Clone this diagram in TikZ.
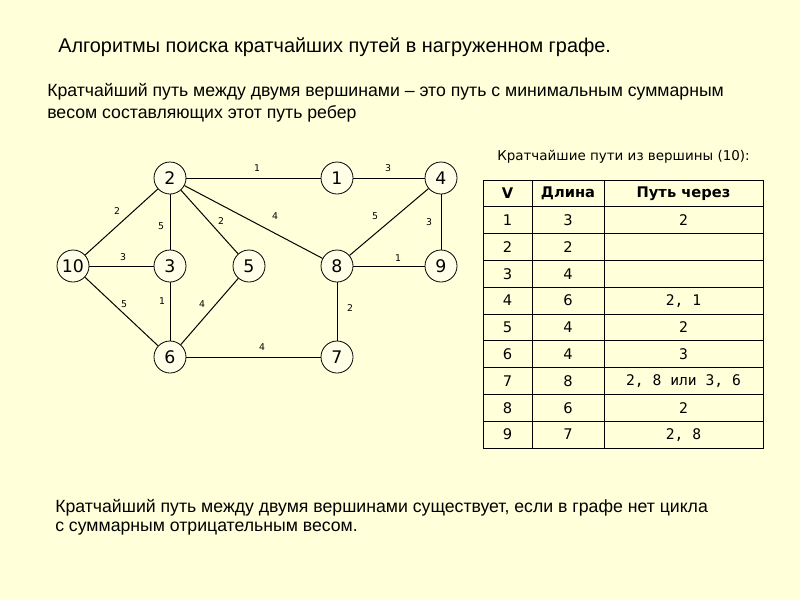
\documentclass[tikz,border=0pt]{standalone}
\usepackage{fontspec}
\setmainfont{DejaVu Sans}
\newfontfamily\arialfont{Liberation Sans}
\newfontfamily\dvs{DejaVu Sans}
\newfontfamily\dvsmono{DejaVu Sans Mono}
\definecolor{bg}{HTML}{FFFFDA}
\definecolor{nodefill}{HTML}{FFFFE8}
\begin{document}
\begin{tikzpicture}[x=0.75pt,y=-0.75pt,
  vtx/.style={circle,draw=black,fill=nodefill,line width=0.6pt,minimum size=24pt,inner sep=0pt,font=\dvs\fontsize{13}{13}\selectfont},
  edge/.style={draw=black,line width=0.75pt},
  wlab/.style={font=\dvs\fontsize{7}{7}\selectfont,inner sep=0pt},
  ttl/.style={anchor=west,inner sep=0pt,font=\arialfont\fontsize{14.9}{16}\selectfont},
  txt/.style={anchor=west,inner sep=0pt,font=\arialfont\fontsize{13.25}{14}\selectfont},
  captext/.style={anchor=west,inner sep=0pt,font=\dvs\fontsize{10.1}{11}\selectfont},
  cell/.style={inner sep=0pt,font=\dvs\fontsize{11}{12}\selectfont},
  mcell/.style={inner sep=0pt,font=\dvsmono\fontsize{11}{12}\selectfont},
  head/.style={inner sep=0pt,font=\dvs\bfseries\fontsize{11}{12}\selectfont},
  tgrid/.style={draw=black,line width=0.75pt}]
\fill[bg] (0,0) rectangle (800,600);
\useasboundingbox (0,0) rectangle (800,600);

% texts
\node[ttl] (title) at (58,47) {Алгоритмы поиска кратчайших путей в нагруженном графе.};
\node[txt] (p1) at (47,92) {Кратчайший путь между двумя вершинами – это путь с минимальным суммарным};
\node[txt] (p2) at (47,114) {весом составляющих этот путь ребер};
\node[captext] (caption) at (497,157) {Кратчайшие пути из вершины (10):};
\node[txt] (b1) at (55,508) {Кратчайший путь между двумя вершинами существует, если в графе нет цикла};
\node[txt] (b2) at (55,529) {с суммарным отрицательным весом.};

% graph nodes
\node[vtx] (n2) at (170,178) {2};
\node[vtx] (n1) at (337,178) {1};
\node[vtx] (n4) at (441,178) {4};
\node[vtx] (n10) at (73,266) {10};
\node[vtx] (n3) at (170,266) {3};
\node[vtx] (n5) at (249,266) {5};
\node[vtx] (n8) at (337,266) {8};
\node[vtx] (n9) at (441,266) {9};
\node[vtx] (n6) at (170,357) {6};
\node[vtx] (n7) at (337,357) {7};

% edges
\draw[edge] (n2) -- (n1);
\draw[edge] (n1) -- (n4);
\draw[edge] (n2) -- (n10);
\draw[edge] (n2) -- (n3);
\draw[edge] (n2) -- (n5);
\draw[edge] (n2) -- (n8);
\draw[edge] (n4) -- (n8);
\draw[edge] (n4) -- (n9);
\draw[edge] (n10) -- (n3);
\draw[edge] (n8) -- (n9);
\draw[edge] (n10) -- (n6);
\draw[edge] (n3) -- (n6);
\draw[edge] (n5) -- (n6);
\draw[edge] (n8) -- (n7);
\draw[edge] (n6) -- (n7);

% weights
\node[wlab] (w21) at (257,168) {1};
\node[wlab] (w14) at (388,168) {3};
\node[wlab] (w210) at (117,211) {2};
\node[wlab] (w23) at (161,226) {5};
\node[wlab] (w25) at (221,221) {2};
\node[wlab] (w28) at (275,216) {4};
\node[wlab] (w48) at (375,216) {5};
\node[wlab] (w49) at (429,222) {3};
\node[wlab] (w103) at (123,257) {3};
\node[wlab] (w89) at (398,258) {1};
\node[wlab] (w106) at (124,304) {5};
\node[wlab] (w36) at (162,301) {1};
\node[wlab] (w56) at (202,304) {4};
\node[wlab] (w87) at (350,308) {2};
\node[wlab] (w67) at (262,347) {4};

% table grid
\draw[tgrid] (483,180) rectangle (763,448);
\foreach \yy in {206.8,233.6,260.4,287.2,314,340.8,367.6,394.4,421.2}
  \draw[tgrid] (483,\yy) -- (763,\yy);
\draw[tgrid] (532,180) -- (532,448);
\draw[tgrid] (604,180) -- (604,448);

% table header
\node[head] (hV) at (507.5,193.4) {V};
\node[head] (hL) at (568,193.4) {Длина};
\node[head] (hP) at (683.5,193.4) {Путь через};
% rows
\foreach \v/\l/\p [count=\i] in {1/3/{2},2/2/{},3/4/{},4/6/{2, 1},5/4/{2},6/4/{3},7/8/{2, 8 или 3, 6},8/6/{2},9/7/{2, 8}}{
  \node[cell] (v\i) at (507.5,193.4+26.8*\i) {\v};
  \node[cell] (l\i) at (568,193.4+26.8*\i) {\l};
  \node[mcell] (p\i) at (683.5,193.4+26.8*\i) {\p};
}
\end{tikzpicture}
\end{document}
